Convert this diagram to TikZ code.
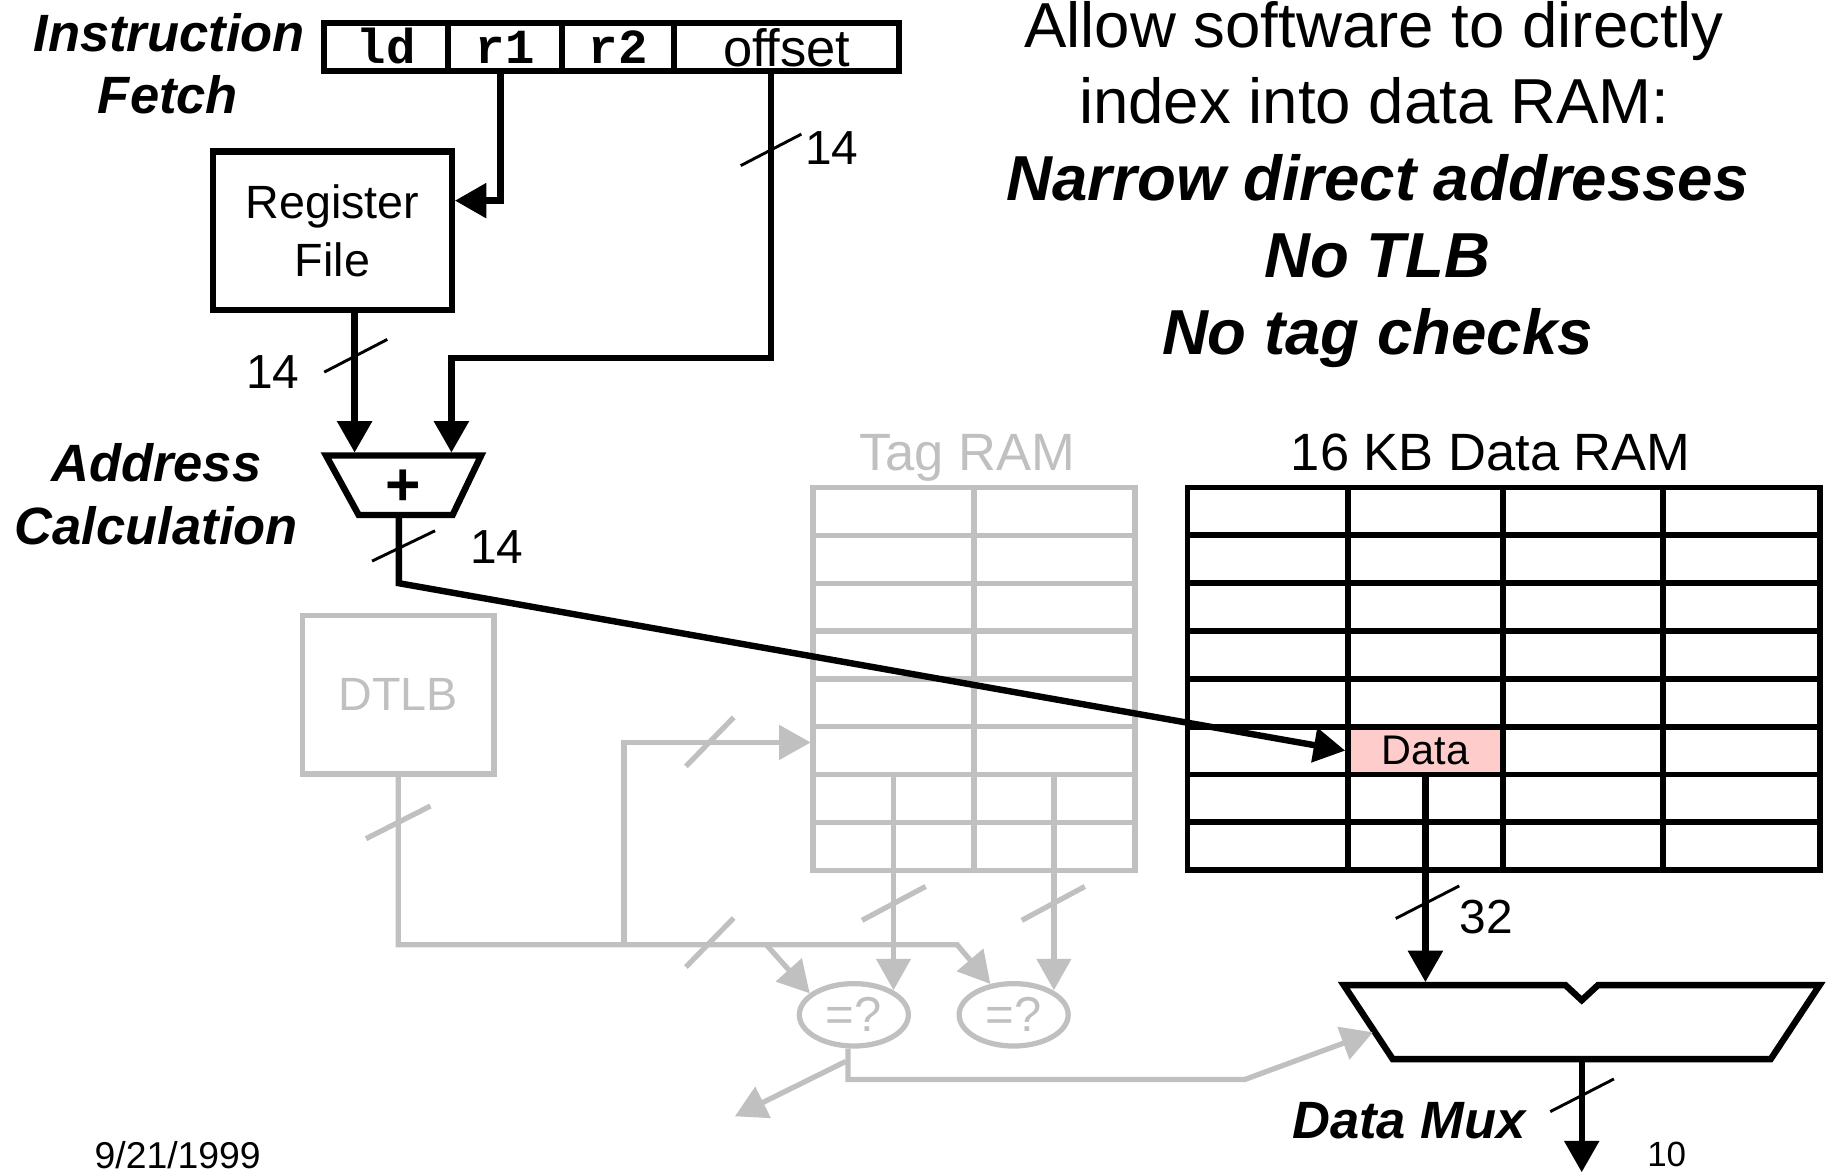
\documentclass[tikz,border=0pt]{standalone}
\usepackage{fontspec}
\setmainfont{Liberation Sans}
\newfontfamily\codefamily{Liberation Mono}
\usetikzlibrary{arrows.meta,positioning,calc,shapes.geometric}
\definecolor{ghost}{RGB}{192,192,192}
\definecolor{hitpink}{RGB}{255,204,204}
\newcommand{\fntBig}{\fontsize{54.5}{66}\selectfont}
\newcommand{\fntHead}{\fontsize{45}{54}\selectfont\bfseries\itshape}
\newcommand{\fntRam}{\fontsize{45}{54}\selectfont}
\newcommand{\fntBox}{\fontsize{40}{50}\selectfont}
\newcommand{\fntWidth}{\fontsize{41}{49}\selectfont}
\newcommand{\fntCode}{\fontsize{42}{50}\selectfont\codefamily\bfseries}
\newcommand{\fntCell}{\fontsize{35.5}{42}\selectfont}
\newcommand{\fntFoot}{\fontsize{32}{38}\selectfont}

\begin{document}
\begin{tikzpicture}[x=1pt,y=-1pt]
    \tikzset{arr/.style={-{Triangle[length=27pt,width=29pt]}},
        wire/.style={line width=5.5pt},
        gwire/.style={line width=4.5pt, ghost},
        bmark/.style={line width=2.5pt},
        gmark/.style={line width=4.5pt, ghost},
        field/.style={draw, line width=5pt, minimum height=41pt, inner sep=0pt, outer sep=0pt},
        txt/.style={inner sep=0pt, anchor=base}}
    \useasboundingbox (0,0) rectangle (1568,1006);

    % instruction word
    \node[field, minimum width=106pt, text height=28pt, text depth=0pt, font=\fntCode] (fld) at (331,40.5) {ld};
    \node[field, minimum width=98pt, text height=28pt, text depth=0pt, font=\fntCode, right=0pt of fld] (fr1) {r1};
    \node[field, minimum width=96pt, text height=28pt, text depth=0pt, font=\fntCode, right=0pt of fr1] (fr2) {r2};
    \node[field, minimum width=193pt, text height=33pt, text depth=0pt, font=\fntRam, right=0pt of fr2] (foff) {offset};
    \node[txt, font=\fntHead] (ifa) at (145,44) {Instruction};
    \node[txt, font=\fntHead] (ifb) at (144,97) {Fetch};

    % register file and adder
    \node[draw, line width=5.5pt, minimum width=205pt, minimum height=136pt, inner sep=0pt, outer sep=0pt,
        align=center, font=\fntBox] (regfile) at (285,198) {Register\\File};
    \coordinate (rfin) at (390,172);
    \draw[line width=5.5pt, line join=miter] (279.5,390.5) -- (412.5,390.5) -- (388,441.5) -- (307.5,441.5) -- cycle;
    \node[font=\fontsize{52}{60}\selectfont\bfseries, inner sep=0pt] (adder) at (346,418) {+};
    \coordinate (addA) at (304,388);
    \coordinate (addB) at (387,388);
    \coordinate (addout) at (342,441.5);
    \coordinate (addturn) at (342,500);
    \node[txt, font=\fntHead] (aca) at (134,413) {Address};
    \node[txt, font=\fntHead] (acb) at (134,467) {Calculation};

    % grey path: DTLB, tag RAM, comparators
    \node[draw=ghost, line width=4.5pt, minimum width=164pt, minimum height=136pt, inner sep=0pt,
        text=ghost, font=\fntBox] (dtlb) at (341.5,595.5) {DTLB};
    \node[txt, text=ghost, font=\fntRam] (taglbl) at (829,403) {Tag RAM};
    \draw[gwire] (697,418) rectangle (973,746);
    \draw[gwire] (835,418) -- (835,746);
    \draw[gwire] (697,459) -- (973,459) (697,500) -- (973,500) (697,541) -- (973,541)
        (697,582) -- (973,582) (697,623) -- (973,623) (697,664) -- (973,664) (697,705) -- (973,705);
    \node[ellipse, draw=ghost, line width=4.5pt, minimum width=93.5pt, minimum height=53.5pt, inner sep=0pt,
        text=ghost, font=\fontsize{42}{50}\selectfont] (eq1) at (732,870) {=?};
    \node[ellipse, draw=ghost, line width=4.5pt, minimum width=93.5pt, minimum height=53.5pt, inner sep=0pt,
        text=ghost, font=\fontsize{42}{50}\selectfont] (eq2) at (869,870) {=?};
    \coordinate (jn1) at (535,810);
    \coordinate (jn2) at (657,810);
    \coordinate (jn3) at (820.6,810);
    \coordinate (tagin) at (695,636.5);
    \coordinate (tagA) at (766,664);
    \coordinate (tagAend) at (766,849);
    \coordinate (tagB) at (903.5,664);
    \coordinate (tagBend) at (903.5,849);
    \coordinate (hitturn) at (1067,925.5);
    \coordinate (lostA) at (725,910);
    \coordinate (lostB) at (630,957);
    \draw[gwire, arr] (dtlb.south) |- (jn3) -- (eq2.127);
    \draw[gwire, arr] (jn1) |- (tagin);
    \draw[gwire, arr] (jn2) -- (eq1.154);
    \draw[gwire, arr] (tagA) -- (tagAend);
    \draw[gwire, arr] (tagB) -- (tagBend);
    \draw[gmark] (313.8,719) -- (369,691);
    \draw[gmark] (588,657) -- (629,615);
    \draw[gmark] (588,829) -- (629,787);
    \draw[gmark] (739,789) -- (793.5,760);
    \draw[gmark] (876,789) -- (930,760);

    % data RAM
    \node[fill=hitpink, minimum width=132.5pt, minimum height=41pt, inner sep=0pt, outer sep=2.5pt,
        font=\fntCell] (datacell) at (1222,643.5) {Data};
    \draw[line width=5pt] (1018,418) rectangle (1560,746);
    \draw[line width=5pt] (1155.8,418) -- (1155.8,746) (1288.3,418) -- (1288.3,746) (1425.5,418) -- (1425.5,746);
    \draw[line width=5pt] (1018,459) -- (1560,459) (1018,500) -- (1560,500) (1018,541) -- (1560,541)
        (1018,582) -- (1560,582) (1018,623) -- (1560,623) (1018,664) -- (1560,664) (1018,705) -- (1560,705);
    \node[txt, font=\fntRam] (ramlbl) at (1278,403) {16 KB Data RAM};

    % data mux
    \draw[line width=5.5pt, line join=miter] (1152,844.5) -- (1342,844.5) -- (1356,857.5) -- (1370,844.5)
        -- (1560,844.5) -- (1518,908) -- (1194,908) -- cycle;
    \coordinate (muxin) at (1223.3,842);
    \coordinate (muxsel) at (1177,885);
    \coordinate (muxout) at (1356,910.5);
    \coordinate (muxend) at (1356,1005);
    \node[txt, font=\fntHead] (muxlbl) at (1208,976) {Data Mux};
    \draw[gwire, arr] ([xshift=-5pt]eq1.south) |- (hitturn) -- (muxsel);
    \draw[gwire, arr] (lostA) -- (lostB);

    % black connections
    \draw[wire, arr] ([xshift=-4pt]fr1.south) |- (rfin);
    \draw[wire, arr] ([xshift=-13.5pt]foff.south) -- ++(0,246) -| (addB);
    \draw[wire, arr] (regfile.south -| addA) -- (addA);
    \draw[wire, arr] (addout) -- (addturn) -- (datacell.west);
    \draw[wire, arr] (datacell.south) -- (datacell.south |- muxin);
    \draw[wire, arr] (muxout) -- (muxend);
    \draw[bmark] (635,142) -- (687,115);
    \draw[bmark] (278,319) -- (332,291);
    \draw[bmark] (319,481) -- (373,455);
    \draw[bmark] (1196.6,787.4) -- (1251,759.5);
    \draw[bmark] (1329,953) -- (1383.6,925);
    \node[txt, anchor=base west, font=\fntWidth] (w1) at (690,141) {14};
    \node[txt, anchor=base west, font=\fntWidth] (w2) at (211,333) {14};
    \node[txt, anchor=base west, font=\fntWidth] (w3) at (403,483) {14};
    \node[txt, anchor=base west, font=\fntWidth] (w4) at (1251,800) {32};

    % slide text
    \node[txt, font=\fntBig] (msg1) at (1178,41) {Allow software to directly};
    \node[txt, font=\fntBig] (msg2) at (1178,106) {index into data RAM:};
    \node[txt, font=\fntBig\bfseries\itshape] (msg3) at (1181,172) {Narrow direct addresses};
    \node[txt, font=\fntBig\bfseries\itshape] (msg4) at (1181,238) {No TLB};
    \node[txt, font=\fntBig\bfseries\itshape] (msg5) at (1181,304) {No tag checks};
    \node[txt, anchor=base west, font=\fntFoot] (date) at (81,1002) {9/21/1999};
    \node[txt, anchor=base west, font=\fontsize{30}{36}\selectfont] (page) at (1412,1000) {10};
\end{tikzpicture}
\end{document}
